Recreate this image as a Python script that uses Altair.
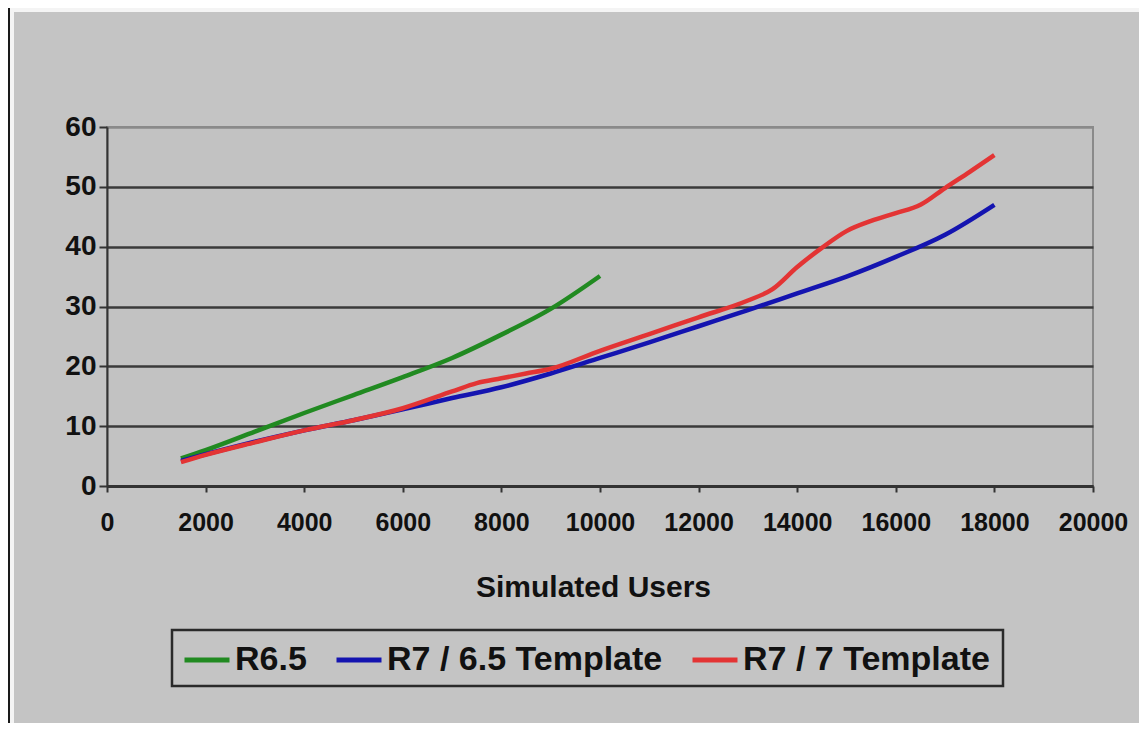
import altair as alt
import pandas as pd

# ---- data ----
series_names = ["R6.5", "R7 / 6.5 Template", "R7 / 7 Template"]
series_colors = ["#218a21", "#1414b0", "#e33434"]

users_r65 = [1500, 2000, 3000, 4000, 5000, 6000, 7000, 8000, 9000, 10000]
resp_r65 = [4.6, 6.0, 9.1, 12.2, 15.2, 18.2, 21.4, 25.3, 29.6, 35.1]

users_r7_65 = [1500, 2000, 3000, 4000, 5000, 6000, 7000, 8000, 9000, 10000,
               11000, 12000, 13000, 14000, 15000, 16000, 17000, 18000]
resp_r7_65 = [4.2, 5.3, 7.4, 9.3, 11.0, 12.8, 14.7, 16.5, 18.8, 21.4,
              24.0, 26.7, 29.4, 32.2, 35.0, 38.3, 42.0, 47.0]

users_r7_7 = [1500, 2000, 3000, 4000, 5000, 6000, 7000, 7500, 8000, 8500, 9000,
              10000, 11000, 12000, 13000, 13500, 14000, 14500, 15000, 15500,
              16000, 16500, 17000, 17500, 18000]
resp_r7_7 = [4.0, 5.2, 7.3, 9.3, 11.0, 13.0, 15.8, 17.2, 18.0, 18.8, 19.6,
             22.6, 25.4, 28.2, 31.0, 32.9, 36.6, 39.8, 42.6, 44.3, 45.6,
             47.0, 49.8, 52.5, 55.3]

x_ticks = list(range(0, 20001, 2000))
y_ticks = [0, 10, 20, 30, 40, 50, 60]

rows = []
for name, xs, ys in [(series_names[0], users_r65, resp_r65),
                     (series_names[1], users_r7_65, resp_r7_65),
                     (series_names[2], users_r7_7, resp_r7_7)]:
    for u, r in zip(xs, ys):
        rows.append({"series": name, "users": u, "value": r})
df = pd.DataFrame(rows)

W, H = 986, 359
FONT = "Liberation Sans"

lines = alt.Chart(df).mark_line(strokeWidth=4.5, interpolate="monotone").encode(
    x=alt.X("users:Q",
            scale=alt.Scale(domain=[0, 20000], nice=False, zero=True),
            axis=alt.Axis(values=x_ticks, format="d", title="Simulated Users",
                          grid=False, domainColor="#333333", domainWidth=3,
                          tickColor="#333333", tickWidth=2, tickSize=6,
                          labelOverlap=False, labelFlush=False,
                          labelFont=FONT, labelFontSize=25, labelFontWeight="bold",
                          labelColor="#111111", labelPadding=18,
                          titleFont=FONT, titleFontSize=30, titleFontWeight="bold",
                          titleColor="#111111", titlePadding=37, titleX=486)),
    y=alt.Y("value:Q",
            scale=alt.Scale(domain=[0, 60], nice=False),
            axis=alt.Axis(values=y_ticks, title=None,
                          grid=True,
                          gridColor={"condition": {"test": "datum.value == 60", "value": "#8a8a8a"},
                                     "value": "#3a3a3a"},
                          gridWidth=2.5,
                          domainColor="#333333", domainWidth=2,
                          tickColor="#333333", tickWidth=2, tickSize=8,
                          labelOverlap=False, labelFlush=False,
                          labelFont=FONT, labelFontSize=28, labelFontWeight="bold",
                          labelColor="#111111", labelPadding=3)),
    color=alt.Color("series:N",
                    scale=alt.Scale(domain=series_names, range=series_colors),
                    sort=series_names,
                    legend=alt.Legend(orient="none", legendX=75, legendY=508,
                                      direction="horizontal", title=None,
                                      symbolType="stroke", symbolSize=2025,
                                      symbolStrokeWidth=5, labelFont=FONT,
                                      labelFontSize=34, labelFontWeight="bold",
                                      labelColor="#111111", labelOffset=3,
                                      columnPadding=19, labelLimit=0, padding=0)),
)

# decorative frame pieces (outside plot area)
legend_box = alt.Chart(pd.DataFrame({"k": [0]})).mark_rect(
    fillOpacity=0, stroke="#2a2a2a", strokeWidth=2.5).encode(
    x=alt.value(65), x2=alt.value(896), y=alt.value(503), y2=alt.value(559))

edge_white = alt.Chart(pd.DataFrame({"k": [0]})).mark_rect(fill="#f4f4f4").encode(
    x=alt.value(-97), x2=alt.value(-93), y=alt.value(-119), y2=alt.value(596))
edge_top = alt.Chart(pd.DataFrame({"k": [0]})).mark_rect(fill="#f4f4f4").encode(
    x=alt.value(-97), x2=alt.value(1032), y=alt.value(-119), y2=alt.value(-115))
edge_dark = alt.Chart(pd.DataFrame({"k": [0]})).mark_rect(fill="#1a1a1a").encode(
    x=alt.value(-99), x2=alt.value(-97), y=alt.value(-119), y2=alt.value(596))

chart = alt.layer(edge_white, edge_top, edge_dark, legend_box, lines).properties(
    width=W, height=H,
    autosize=alt.AutoSizeParams(type="none"),
    padding={"left": 99, "top": 119, "right": 46, "bottom": 237},
    background="#c4c4c4",
).configure_view(fill="#c2c2c2", stroke="#8a8a8a", strokeWidth=2)

chart.save("out.html", embed_options={"renderer": "svg", "actions": False})
